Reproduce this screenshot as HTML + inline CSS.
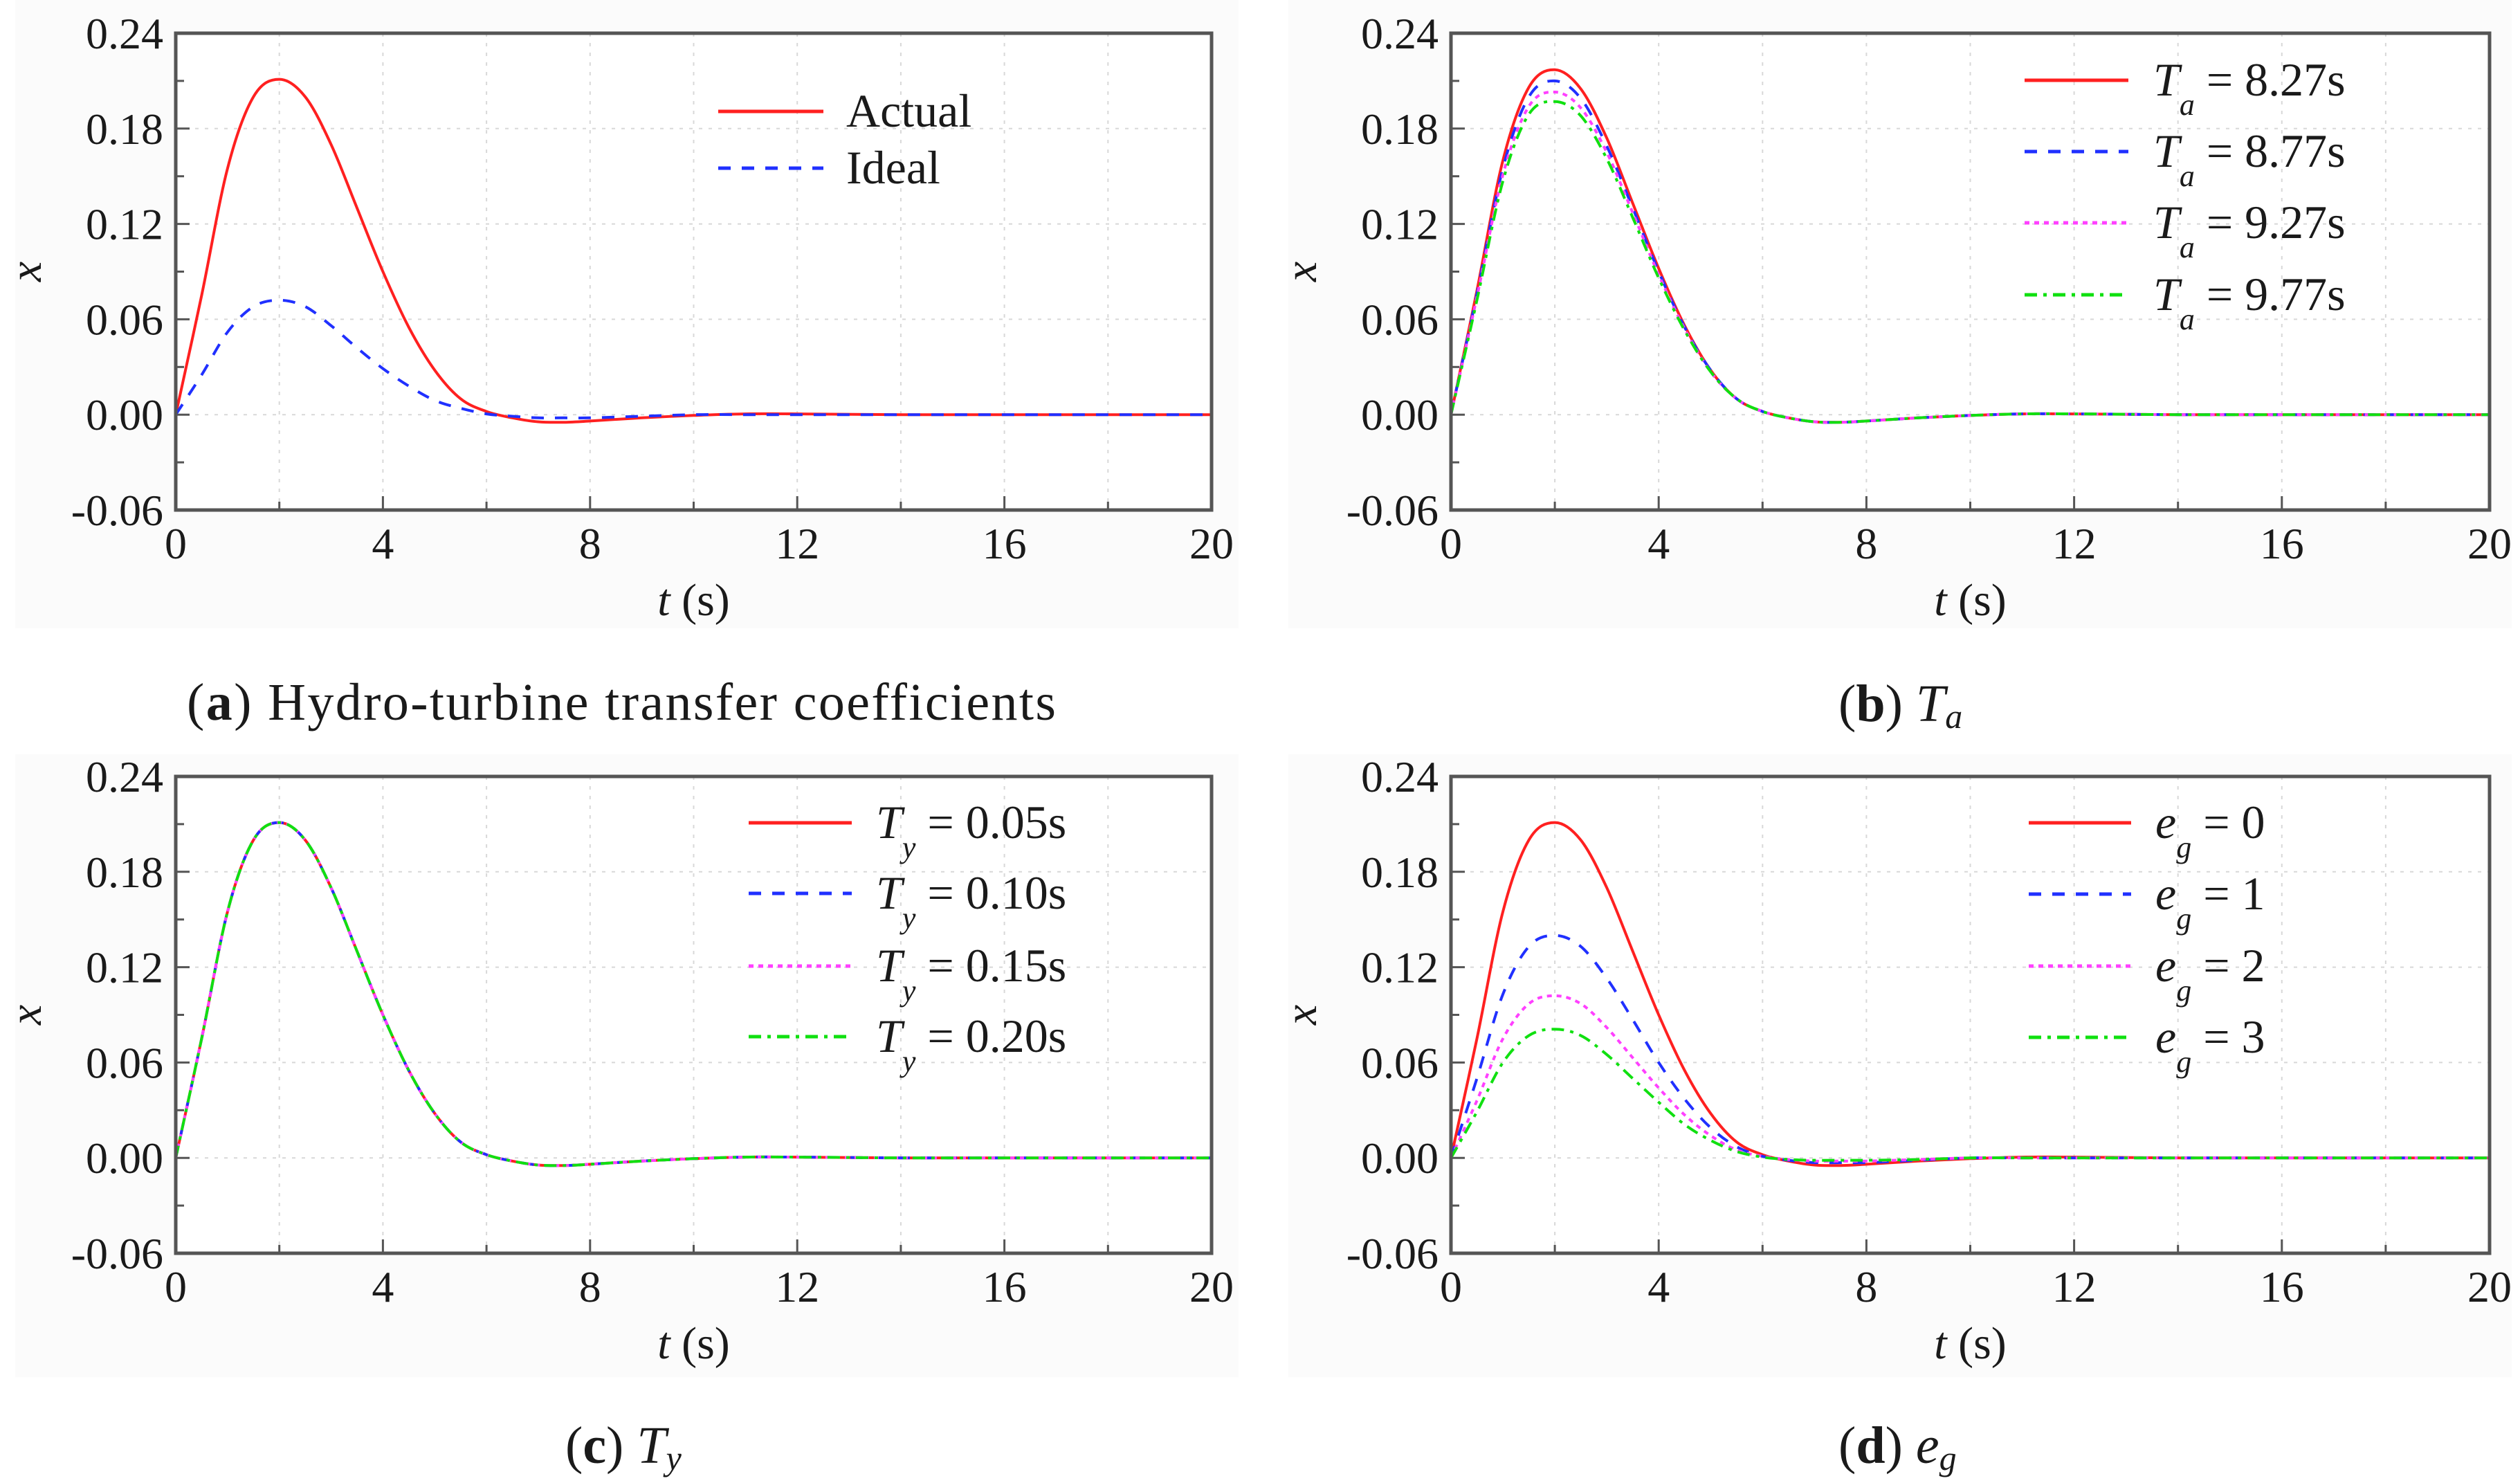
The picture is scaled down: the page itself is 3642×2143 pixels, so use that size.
<!DOCTYPE html>
<html><head><meta charset="utf-8"><style>
html,body{margin:0;padding:0;background:#fff;}
svg{display:block;}
svg text{font-family:"Liberation Serif","DejaVu Serif","Times New Roman",serif;fill:#1a1a1a;}
</style></head><body>
<svg id="fig" width="3642" height="2143" viewBox="0 0 3642 2143" xmlns="http://www.w3.org/2000/svg" font-family="Liberation Serif, DejaVu Serif, serif">
<rect x="0" y="0" width="3642" height="2143" fill="#ffffff"/>
</svg>
<script>
// shared time samples (s)
const tSamples = [0,0.5,1,1.5,2,2.5,3,3.5,4,4.5,5,5.5,6,6.5,7,7.5,8,9,10,11,12,14,16,18,20];
const xTicks = [0,4,8,12,16,20];
const yTicks = [-0.06,0,0.06,0.12,0.18,0.24];
const yTickLabels = ["-0.06","0.00","0.06","0.12","0.18","0.24"];
// panel (a)
const aLabels = ["Actual","Ideal"];
const aActual = [0,0.075,0.155,0.2,0.211,0.2,0.17,0.13,0.09,0.055,0.028,0.01,0.002,-0.002,-0.0045,-0.0048,-0.004,-0.002,-0.0005,0.0005,0.0005,0,0,0,0];
const aIdeal  = [0,0.025,0.052,0.068,0.072,0.068,0.056,0.042,0.029,0.018,0.009,0.004,0.0005,-0.001,-0.002,-0.002,-0.002,-0.001,0,0,0,0,0,0,0];
// panel (b)
const bLabels = ["8.27s","8.77s","9.27s","9.77s"];
const bTa827 = [0,0.078,0.16,0.206,0.217,0.205,0.174,0.133,0.092,0.056,0.028,0.01,0.002,-0.002,-0.0045,-0.0048,-0.004,-0.002,-0.0005,0.0005,0.0005,0,0,0,0];
const bTa877 = [0,0.076,0.155,0.2,0.21,0.199,0.169,0.13,0.09,0.055,0.028,0.01,0.002,-0.002,-0.0045,-0.0048,-0.004,-0.002,-0.0005,0.0005,0.0005,0,0,0,0];
const bTa927 = [0,0.074,0.151,0.194,0.203,0.193,0.165,0.127,0.088,0.054,0.027,0.01,0.002,-0.002,-0.0045,-0.0048,-0.004,-0.002,-0.0005,0.0005,0.0005,0,0,0,0];
const bTa977 = [0,0.072,0.147,0.189,0.197,0.188,0.161,0.124,0.086,0.053,0.027,0.01,0.002,-0.002,-0.0045,-0.0048,-0.004,-0.002,-0.0005,0.0005,0.0005,0,0,0,0];
// panel (c)
const cLabels = ["0.05s","0.10s","0.15s","0.20s"];
const cTy005 = [0,0.075,0.155,0.2,0.211,0.2,0.17,0.13,0.09,0.055,0.028,0.01,0.002,-0.002,-0.0045,-0.0048,-0.004,-0.002,-0.0005,0.0005,0.0005,0,0,0,0];
const cTy010 = [0,0.075,0.155,0.2,0.211,0.2,0.17,0.13,0.09,0.055,0.028,0.01,0.002,-0.002,-0.0045,-0.0048,-0.004,-0.002,-0.0005,0.0005,0.0005,0,0,0,0];
const cTy015 = [0,0.075,0.155,0.2,0.211,0.2,0.17,0.13,0.09,0.055,0.028,0.01,0.002,-0.002,-0.0045,-0.0048,-0.004,-0.002,-0.0005,0.0005,0.0005,0,0,0,0];
const cTy020 = [0,0.075,0.155,0.2,0.211,0.2,0.17,0.13,0.09,0.055,0.028,0.01,0.002,-0.002,-0.0045,-0.0048,-0.004,-0.002,-0.0005,0.0005,0.0005,0,0,0,0];
// panel (d)
const dLabels = ["0","1","2","3"];
const dEg0 = [0,0.075,0.155,0.2,0.211,0.2,0.17,0.13,0.09,0.055,0.028,0.01,0.002,-0.002,-0.0045,-0.0048,-0.004,-0.002,-0.0005,0.0005,0.0005,0,0,0,0];
const dEg1 = [0,0.05,0.103,0.133,0.14,0.133,0.113,0.087,0.06,0.037,0.019,0.007,0.001,-0.0015,-0.003,-0.003,-0.003,-0.0015,0,0,0,0,0,0,0];
const dEg2 = [0,0.036,0.075,0.097,0.102,0.097,0.082,0.063,0.044,0.027,0.014,0.005,0.001,-0.001,-0.002,-0.002,-0.002,-0.001,0,0,0,0,0,0,0];
const dEg3 = [0,0.029,0.06,0.077,0.081,0.077,0.065,0.05,0.035,0.021,0.011,0.004,0.0005,-0.001,-0.0015,-0.0015,-0.0015,-0.001,0,0,0,0,0,0,0];

const NS = "http://www.w3.org/2000/svg";
const svg = document.getElementById('fig');
const FF = '"Liberation Serif", "DejaVu Serif", serif';
function mk(tag, attrs, parent){
  const e = document.createElementNS(NS, tag);
  for (const k in attrs) e.setAttribute(k, attrs[k]);
  if (tag === 'text') e.style.fontFamily = FF;
  (parent||svg).appendChild(e);
  return e;
}
const STY = [
  {c:"#ff2020", d:""},
  {c:"#2030ff", d:"18 16"},
  {c:"#ff40ff", d:"7 7"},
  {c:"#10e010", d:"18 9 5 9"}
];
const panels = [
  {id:"a", L:254, R:1751, T:48, B:737, bg:[22,0,1790,908], series:[aActual,aIdeal], labels:aLabels, sym:null,
   leg:{x1:1038, x2:1190, tx:1223, ys:[161,243]}, capX:270, capY:1040},
  {id:"b", L:2097, R:3598, T:48, B:737, bg:[1862,0,3630,908], series:[bTa827,bTa877,bTa927,bTa977], labels:bLabels, sym:["T","a"],
   leg:{x1:2926, x2:3076, tx:3112, ys:[116,219,322,426]}, capX:2657, capY:1042},
  {id:"c", L:254, R:1751, T:1122, B:1811, bg:[22,1090,1790,1990], series:[cTy005,cTy010,cTy015,cTy020], labels:cLabels, sym:["T","y"],
   leg:{x1:1082, x2:1231, tx:1266, ys:[1189,1291,1396,1498]}, capX:817, capY:2114},
  {id:"d", L:2097, R:3598, T:1122, B:1811, bg:[1862,1090,3630,1990], series:[dEg0,dEg1,dEg2,dEg3], labels:dLabels, sym:["e","g"],
   leg:{x1:2932, x2:3080, tx:3115, ys:[1189,1292,1396,1499]}, capX:2657, capY:2114}
];

function smoothPath(pts){
  let d = "M"+pts[0][0].toFixed(1)+","+pts[0][1].toFixed(1);
  for (let i=0;i<pts.length-1;i++){
    const p0=pts[Math.max(0,i-1)], p1=pts[i], p2=pts[i+1], p3=pts[Math.min(pts.length-1,i+2)];
    const c1x=p1[0]+(p2[0]-p0[0])/6, c1y=p1[1]+(p2[1]-p0[1])/6;
    const c2x=p2[0]-(p3[0]-p1[0])/6, c2y=p2[1]-(p3[1]-p1[1])/6;
    d += " C"+c1x.toFixed(1)+","+c1y.toFixed(1)+" "+c2x.toFixed(1)+","+c2y.toFixed(1)+" "+p2[0].toFixed(1)+","+p2[1].toFixed(1);
  }
  return d;
}

panels.forEach(p=>{
  const g = mk('g',{});
  
  
  const bgr = mk('rect',{x:p.bg[0],y:p.bg[1],width:p.bg[2]-p.bg[0],height:p.bg[3]-p.bg[1],fill:"#fbfbfb"},g);
  
  
  const pr = mk('rect',{x:p.L,y:p.T,width:p.R-p.L,height:p.B-p.T,fill:"#ffffff"},g);
  
  
  const sx = v => p.L + (v-0)/(20-0)*(p.R-p.L);
  const sy = v => p.B - (v+0.06)/(0.30)*(p.B-p.T);
  for (let xv=2; xv<20; xv+=2){
    const l = mk('line',{x1:sx(xv),x2:sx(xv),y1:p.T,y2:p.B,stroke:"#d8d8d8","stroke-width":2,"stroke-dasharray":"5 9"},g);
    
    
    mk('line',{x1:sx(xv),x2:sx(xv),y1:p.B,y2:p.B-(xv%4===0?20:12),stroke:"#555","stroke-width":3},g);
  }
  yTicks.forEach((yv,i)=>{
    if (i>0 && i<yTicks.length-1){
      const l = mk('line',{x1:p.L,x2:p.R,y1:sy(yv),y2:sy(yv),stroke:"#d8d8d8","stroke-width":2,"stroke-dasharray":"5 9"},g);
      
      
    }
    mk('line',{x1:p.L,x2:p.L+20,y1:sy(yv),y2:sy(yv),stroke:"#555","stroke-width":3},g);
    if (i<yTicks.length-1) mk('line',{x1:p.L,x2:p.L+12,y1:sy(yv+0.03),y2:sy(yv+0.03),stroke:"#555","stroke-width":3},g);
    const t = mk('text',{x:p.L-18,y:sy(yv)+22,"font-size":64,"text-anchor":"end"},g);
    t.textContent = yTickLabels[i];
    
    
  });
  xTicks.forEach(xv=>{
    const t = mk('text',{x:sx(xv),y:p.B+70,"font-size":64,"text-anchor":"middle"},g);
    t.textContent = String(xv);
    
    
  });
  const xl = mk('text',{x:(p.L+p.R)/2,y:p.B+152,"font-size":66,"text-anchor":"middle"},g);
  xl.innerHTML = '<tspan font-style="italic">t</tspan> (s)';
  
  
  const ylx = p.L-195, yly=(p.T+p.B)/2;
  const yl = mk('text',{x:ylx,y:yly,"font-size":66,"font-style":"italic","text-anchor":"middle",transform:"rotate(-90 "+ylx+" "+yly+")"},g);
  yl.textContent = "x";
  
  
  p.series.forEach((vals,si)=>{
    const pts = tSamples.map((tv,k)=>[sx(tv), sy(vals[k])]);
    const path = mk('path',{d:smoothPath(pts),fill:"none",stroke:STY[si].c,"stroke-width":4,"stroke-dasharray":STY[si].d||"none"},g);
    
    
  });
  p.labels.forEach((lab,si)=>{
    const y = p.leg.ys[si];
    const ll = mk('line',{x1:p.leg.x1,x2:p.leg.x2,y1:y,y2:y,stroke:STY[si].c,"stroke-width":5,"stroke-dasharray":STY[si].d||"none"},g);
    
    
    const t = mk('text',{x:p.leg.tx,y:y+22,"font-size":68},g);
    if (p.sym){
      t.innerHTML = '<tspan font-style="italic">'+p.sym[0]+'</tspan><tspan font-style="italic" font-size="44" dy="28">'+p.sym[1]+'</tspan><tspan dy="-28"> = '+lab+'</tspan>';
    } else {
      t.textContent = lab;
    }
    
    
  });
  const fr = mk('rect',{x:p.L,y:p.T,width:p.R-p.L,height:p.B-p.T,fill:"none",stroke:"#555","stroke-width":5},g);
  
  
  const cap = mk('text',{x:p.capX,y:p.capY,"font-size":76},g);
  const capTxt = {a:'Hydro-turbine transfer coefficients', b:'<tspan font-style="italic">T</tspan><tspan font-style="italic" font-size="50" dy="10">a</tspan>',
                  c:'<tspan font-style="italic">T</tspan><tspan font-style="italic" font-size="50" dy="10">y</tspan>',
                  d:'<tspan font-style="italic">e</tspan><tspan font-style="italic" font-size="50" dy="10">g</tspan>'}[p.id];
  cap.innerHTML = '(<tspan font-weight="bold">'+p.id+'</tspan>) '+capTxt;
  if (p.id === 'a') cap.setAttribute('textLength', 1256);
  
  
});
</script>
</body></html>
